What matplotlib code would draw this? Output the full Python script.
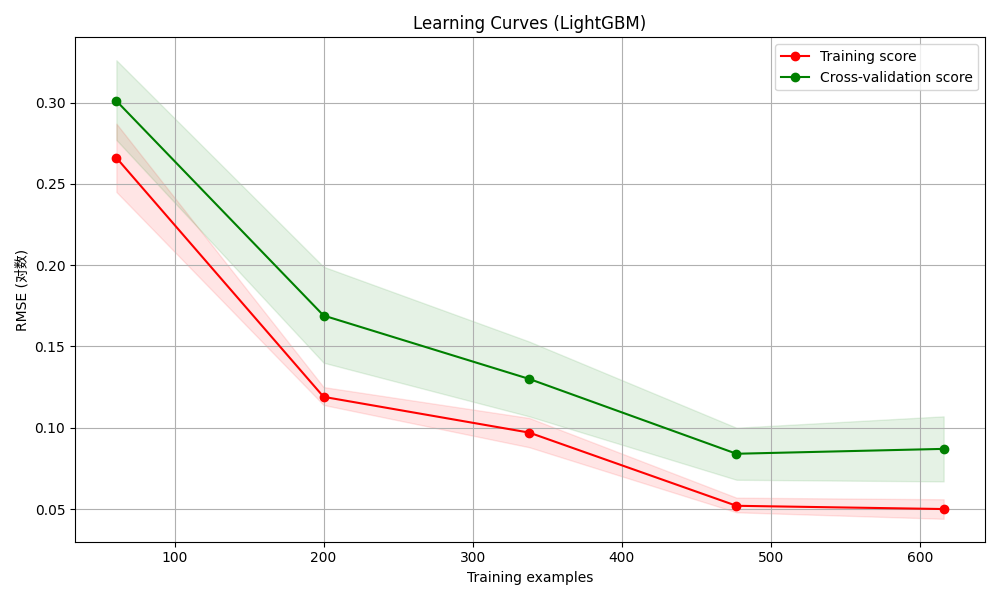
import matplotlib
matplotlib.use("Agg")
import matplotlib.pyplot as plt

sizes = [61, 200, 338, 477, 616]
train_mean = [0.266, 0.119, 0.097, 0.052, 0.050]
train_low = [0.245, 0.114, 0.088, 0.048, 0.044]
train_high = [0.287, 0.125, 0.106, 0.057, 0.056]
cv_mean = [0.301, 0.169, 0.130, 0.084, 0.087]
cv_low = [0.277, 0.140, 0.107, 0.068, 0.067]
cv_high = [0.326, 0.199, 0.153, 0.100, 0.107]

plt.rcParams['font.family'] = ['DejaVu Sans', 'Noto Sans CJK SC']
fig, ax = plt.subplots(figsize=(10, 6), dpi=100)
ax.set_title("Learning Curves (LightGBM)")
ax.set_xlabel("Training examples")
ax.set_ylabel("RMSE (对数)")
ax.grid(True)
ax.fill_between(sizes, train_low, train_high, alpha=0.1, color="r")
ax.fill_between(sizes, cv_low, cv_high, alpha=0.1, color="g")
ax.plot(sizes, train_mean, 'o-', color="r", label="Training score")
ax.plot(sizes, cv_mean, 'o-', color="g", label="Cross-validation score")
ax.legend(loc="best")
fig.tight_layout()
fig.savefig("out.png")
